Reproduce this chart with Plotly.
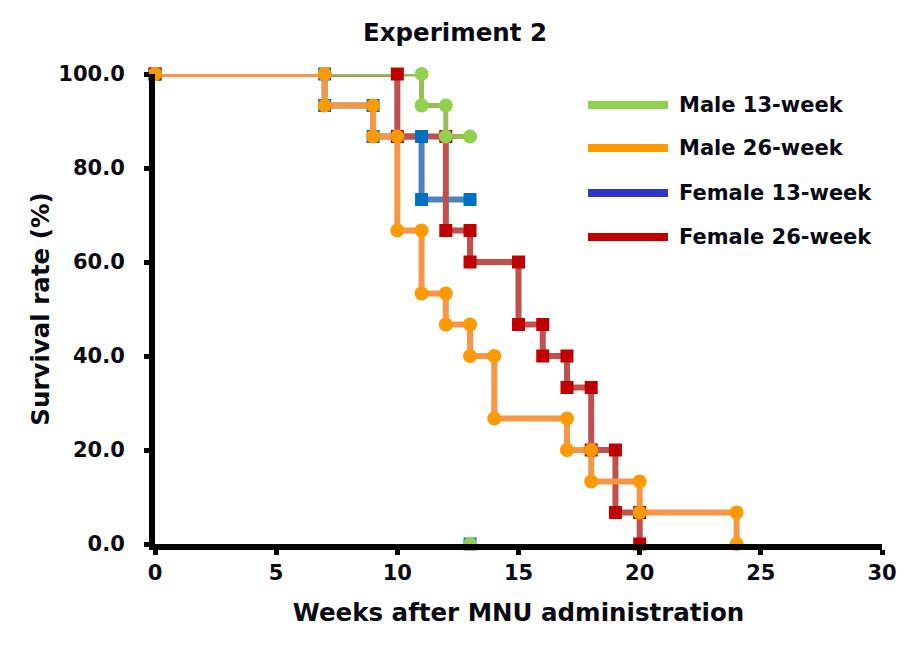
import plotly.graph_objects as go

# ---- data (step vertices, weeks vs survival %) ----
male13_weeks = [0, 7, 11, 11, 12, 12, 13, None, 13]
male13_surv = [100.0, 100.0, 100.0, 93.3, 93.3, 86.7, 86.7, None, 0.0]

male26_weeks = [0, 7, 7, 9, 9, 10, 10, 11, 11, 12, 12, 13, 13, 14, 14, 17, 17, 18, 18, 20, 20, 24, 24]
male26_surv = [100.0, 100.0, 93.3, 93.3, 86.7, 86.7, 66.7, 66.7, 53.3, 53.3, 46.7, 46.7, 40.0, 40.0,
               26.7, 26.7, 20.0, 20.0, 13.3, 13.3, 6.7, 6.7, 0.0]

female13_weeks = [0, 7, 7, 9, 9, 11, 11, 13, None, 13]
female13_surv = [100.0, 100.0, 93.3, 93.3, 86.7, 86.7, 73.3, 73.3, None, 0.0]

female26_weeks = [0, 10, 10, 12, 12, 13, 13, 15, 15, 16, 16, 17, 17, 18, 18, 19, 19, 20, 20]
female26_surv = [100.0, 100.0, 86.7, 86.7, 66.7, 66.7, 60.0, 60.0, 46.7, 46.7, 40.0, 40.0,
                 33.3, 33.3, 20.0, 20.0, 6.7, 6.7, 0.0]

legend_names = ["Male 13-week", "Male 26-week", "Female 13-week", "Female 26-week"]
legend_colors = ["#92D050", "#FF9900", "#3333CC", "#C00000"]

x_ticks = [0, 5, 10, 15, 20, 25, 30]
y_ticks = [0, 20, 40, 60, 80, 100]
y_tick_text = ["0.0", "20.0", "40.0", "60.0", "80.0", "100.0"]

# draw order: blue, red, green, orange (lines first, then markers)
series = [
    (female13_weeks, female13_surv, "#4F81BD", "#0070C0", "square", 6),
    (female26_weeks, female26_surv, "#C0504D", "#C00000", "square", 6),
    (male13_weeks, male13_surv, "#9BBB59", "#92D050", "circle", 5),
    (male26_weeks, male26_surv, "#F79646", "#FF9900", "circle", 6),
]

FONT = "DejaVu Sans"
fig = go.Figure()
for xs, ys, lc, mc, sym, lw in series:
    fig.add_trace(go.Scatter(x=xs, y=ys, mode="lines", line=dict(color=lc, width=lw),
                             connectgaps=False, showlegend=False, hoverinfo="skip",
                             cliponaxis=False))
for xs, ys, lc, mc, sym, lw in series:
    fig.add_trace(go.Scatter(x=xs, y=ys, mode="markers",
                             marker=dict(symbol=sym, color=mc, size=13 if sym == "square" else 14,
                                         line=dict(width=0)),
                             showlegend=False, cliponaxis=False))

# plot area in page pixels (reference): x0=155..x30=882, y100=74..y0=544
PX0, PX1, PY0, PY1 = 155, 882, 74, 544


def px(xp):
    return (xp - PX0) / (PX1 - PX0)


def py(yp):
    return (PY1 - yp) / (PY1 - PY0)


# custom legend
leg_y = [105, 148, 193, 237]
for name, col, yy in zip(legend_names, legend_colors, leg_y):
    fig.add_shape(type="line", xref="paper", yref="paper", x0=px(588), x1=px(668),
                  y0=py(yy), y1=py(yy), line=dict(color=col, width=8))
    fig.add_annotation(xref="paper", yref="paper", x=px(677), y=py(yy), text=name,
                       showarrow=False, xanchor="left", yanchor="middle",
                       font=dict(family=FONT, size=21, color="#0a0a14", weight="bold"))

OFF = 8  # page body offset
fig.update_layout(
    width=922, height=656,
    margin=dict(l=PX0 - OFF, r=922 - PX1 + OFF, t=PY0 - OFF, b=656 - PY1 + OFF, autoexpand=False),
    paper_bgcolor="white", plot_bgcolor="white",
    title=dict(text="<b>Experiment 2</b>", x=(455 - OFF) / 922, xanchor="center",
               y=1 - (32 - OFF) / 656, yanchor="middle",
               font=dict(family=FONT, size=24.5, color="#0a0a14")),
    font=dict(family=FONT, color="#0a0a14"),
)
fig.update_xaxes(range=[0, 30], tickvals=x_ticks, ticktext=[str(t) for t in x_ticks],
                 showgrid=False, zeroline=False, showline=True, linecolor="black", linewidth=6,
                 ticks="outside", ticklen=5, tickwidth=5, tickcolor="black",
                 tickfont=dict(family=FONT, size=21, weight="bold"), automargin=False,
                 title=dict(text="<b>Weeks after MNU administration</b>", standoff=22,
                            font=dict(family=FONT, size=24.5)))
fig.update_yaxes(range=[0, 100], tickvals=y_ticks, ticktext=y_tick_text,
                 showgrid=False, zeroline=False, showline=True, linecolor="black", linewidth=6,
                 ticks="outside", ticklen=5, tickwidth=5, tickcolor="black",
                 ticklabelstandoff=15, automargin=False,
                 tickfont=dict(family=FONT, size=21, weight="bold"),
                 title=dict(text="<b>Survival rate (%)</b>", standoff=4,
                            font=dict(family=FONT, size=24.5)))

fig.write_html("out.html")
